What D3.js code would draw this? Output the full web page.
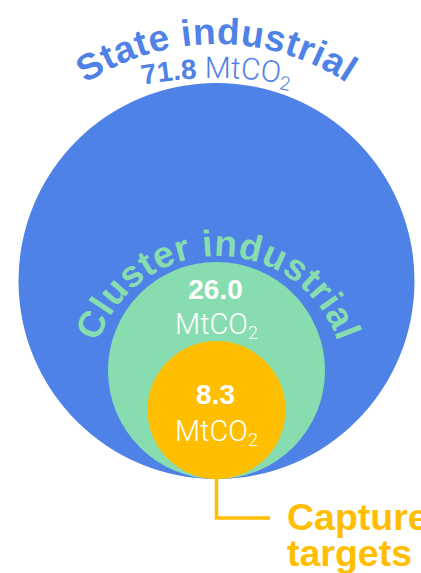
<!DOCTYPE html>
<html>
<head>
<meta charset="utf-8">
<script src="https://cdn.jsdelivr.net/npm/d3@7"></script>
<style>
  body { margin: 0; background: #fff; }
  svg { display: block; }
  .bold { font-family: "Liberation Sans", Arial, sans-serif; font-weight: 700; }
  .light { font-family: Roboto, "Liberation Sans", sans-serif; font-weight: 300; }
</style>
</head>
<body>
<svg width="421" height="573"></svg>
<script>
// ---- Data ----
const categories = ["State industrial", "Cluster industrial", "Capture targets"];
const emissions = [71.8, 26.0, 8.3];
const unit = "MtCO";
const unitSub = "2";

const colors = ["#4f82e6", "#88ddb0", "#ffbf00"];

const svg = d3.select("svg");

// circles all sit on the same bottom point
const cx = 216.5, bottomY = 479;
// radii (the original is not strictly area-scaled)
const r = d3.scaleLinear()
    .domain([8.3, 26.0, 71.8])
    .range([69, 108.5, 198]);

const circles = emissions.map((v, i) => ({
    name: categories[i],
    value: v,
    r: r(v),
    cy: bottomY - r(v),
    color: colors[i]
}));

svg.append("g").selectAll("circle")
    .data(circles)
    .join("circle")
    .attr("cx", cx)
    .attr("cy", d => d.cy)
    .attr("r", d => d.r)
    .attr("fill", d => d.color);

const fmt = d3.format(".1f");
const defs = svg.append("defs");

// upper arc from left to right, over the top
function arcPath(x, y, rad) {
    return `M${x - rad},${y} A${rad},${rad} 0 0 1 ${x + rad},${y}`;
}
function arcText(id, x, y, rad) {
    defs.append("path").attr("id", id).attr("d", arcPath(x, y, rad));
    return svg.append("text")
        .append("textPath")
        .attr("href", "#" + id)
        .attr("startOffset", "50%")
        .attr("text-anchor", "middle");
}

// ---- State industrial (outer) ----
const big = circles[0];
arcText("arc-state", cx, big.cy, big.r + 39)
    .attr("class", "bold")
    .attr("font-size", 37)
    .attr("letter-spacing", 0.6)
    .attr("fill", big.color)
    .text(big.name);

const stateVal = arcText("arc-state-val", cx, big.cy - big.r - 5 + 400, 400)
    .attr("fill", big.color);
stateVal.append("tspan").attr("class", "bold").attr("font-size", 28)
    .text(fmt(big.value) + " ");
stateVal.append("tspan").attr("class", "light").attr("font-size", 30)
    .text(unit);
stateVal.append("tspan").attr("class", "light").attr("font-size", 19)
    .attr("dy", 6).text(unitSub);

// ---- Cluster industrial (middle) ----
const mid = circles[1];
arcText("arc-cluster", cx + 1.5, mid.cy + 12, mid.r + 18)
    .attr("class", "bold")
    .attr("font-size", 37)
    .attr("letter-spacing", 0.6)
    .attr("fill", mid.color)
    .text(mid.name);

function centerValue(d, yNum, yUnit) {
    svg.append("text")
        .attr("class", "bold")
        .attr("x", cx - 1)
        .attr("y", yNum)
        .attr("text-anchor", "middle")
        .attr("font-size", 28)
        .attr("fill", "#fff")
        .text(fmt(d.value));
    const t = svg.append("text")
        .attr("class", "light")
        .attr("x", cx)
        .attr("y", yUnit)
        .attr("text-anchor", "middle")
        .attr("font-size", 29)
        .attr("fill", "#fff");
    t.append("tspan").text(unit);
    t.append("tspan").attr("font-size", 18).attr("dy", 5).text(unitSub);
}
centerValue(mid, mid.cy - 72, mid.cy - 37);

// ---- Capture targets (inner) ----
const small = circles[2];
centerValue(small, small.cy - 6, small.cy + 31);

// leader line to the label
const legY = 518, legX = 270;
svg.append("path")
    .attr("d", d3.line()([[cx, bottomY], [cx, legY], [legX, legY]]))
    .attr("fill", "none")
    .attr("stroke", small.color)
    .attr("stroke-width", 3.5);

// the label runs off the right edge in the original as well
const words = small.name.split(" ");
svg.append("g").selectAll("text")
    .data(words)
    .join("text")
    .attr("class", "bold")
    .attr("x", 287)
    .attr("y", (d, i) => 530 + i * 36)
    .attr("font-size", 37.5)
    .attr("fill", small.color)
    .text(d => d);
</script>
</body>
</html>
